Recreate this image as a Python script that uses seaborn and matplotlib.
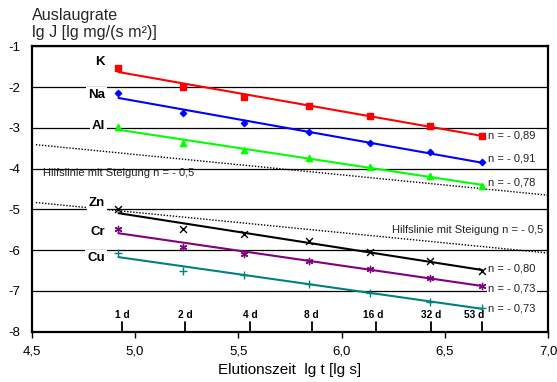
import numpy as np
import matplotlib
matplotlib.use("Agg")
import matplotlib.pyplot as plt
import seaborn as sns

# ---- data ----
lg_t = [4.92, 5.23, 5.53, 5.84, 6.14, 6.43, 6.68]
K = [-1.52, -1.99, -2.23, -2.46, -2.70, -2.94, -3.19]
Na = [-2.15, -2.64, -2.87, -3.10, -3.36, -3.60, -3.84]
Al = [-2.97, -3.37, -3.54, -3.74, -3.96, -4.17, -4.42]
Zn = [-4.99, -5.47, -5.60, -5.78, -6.04, -6.27, -6.50]
Cr = [-5.47, -5.91, -6.09, -6.27, -6.46, -6.67, -6.87]
Cu = [-6.07, -6.52, -6.61, -6.82, -7.05, -7.26, -7.42]

elements = ["K", "Na", "Al", "Zn", "Cr", "Cu"]
series = [K, Na, Al, Zn, Cr, Cu]
slope_labels = ["n = - 0,89", "n = - 0,91", "n = - 0,78",
                "n = - 0,80", "n = - 0,73", "n = - 0,73"]
colors = ["#FF0000", "#0000FF", "#00FF00", "#000000", "#800080", "#008080"]
markers = ["s", "D", "^", "x", (6, 2, 0), "+"]
marker_sizes = [16, 10, 20, 24, 20, 30]

# element label positions (y) and n-label positions (y)
elem_label_y = [-1.38, -2.19, -2.95, -4.84, -5.55, -6.18]
n_label_y = [-3.19, -3.74, -4.33, -6.44, -6.94, -7.43]

# auxiliary lines with slope -0.5
aux_x = [4.52, 7.0]
aux_start_y = [-3.41, -4.83]
aux_slope = -0.5

day_labels = ["1 d", "2 d", "4 d", "8 d", "16 d", "32 d", "53 d"]
day_pos = [4.937, 5.244, 5.557, 5.859, 6.166, 6.434, 6.679]
day_label_pos = [4.937, 5.244, 5.557, 5.852, 6.153, 6.434, 6.64]

x_ticks = [4.5, 5.0, 5.5, 6.0, 6.5, 7.0]
x_ticklabels = ["4,5", "5,0", "5,5", "6,0", "6,5", "7,0"]
y_ticks = [-1, -2, -3, -4, -5, -6, -7, -8]

# ---- style ----
sns.set_theme(style="white")
plt.rcParams["font.family"] = ["Liberation Sans", "DejaVu Sans"]

fig = plt.figure(figsize=(5.57, 3.82), dpi=100)
ax = fig.add_axes([0.057, 0.1317, 0.927, 0.7466])

ax.set_xlim(4.5, 7.0)
ax.set_ylim(-8, -1)
ax.set_xticks(x_ticks)
ax.set_xticklabels(x_ticklabels, fontsize=9.5)
ax.set_yticks(y_ticks)
ax.set_yticklabels([str(v) for v in y_ticks], fontsize=9.5)
ax.tick_params(axis="x", direction="out", length=4, width=1, pad=6, colors="black")
ax.tick_params(axis="y", direction="out", length=0, pad=8, colors="black")
ax.tick_params(axis="both", bottom=True, left=True)
ax.yaxis.grid(True, color="black", lw=0.9)
ax.xaxis.grid(False)
ax.set_axisbelow(True)
for sp in ax.spines.values():
    sp.set_visible(True)
    sp.set_color("black")
    sp.set_linewidth(1.6)

# auxiliary dotted lines
for y0 in aux_start_y:
    ys = [y0, y0 + aux_slope * (aux_x[1] - aux_x[0])]
    ax.plot(aux_x, ys, color="black", lw=1.0, ls=(0, (1, 1.2)), zorder=1.5)

ax.text(4.555, -4.11, "Hilfslinie mit Steigung n = - 0,5", fontsize=8,
        ha="left", va="center", color="#222222", zorder=3)
ax.text(6.976, -5.51, "Hilfslinie mit Steigung n = - 0,5", fontsize=8,
        ha="right", va="center", color="#222222", zorder=3)

# regression series
for name, vals, col, mk, ms in zip(elements, series, colors, markers, marker_sizes):
    sns.regplot(x=lg_t, y=vals, ax=ax, ci=None, color=col, marker=mk,
                scatter_kws=dict(s=ms, alpha=1, linewidths=1.0, zorder=4),
                line_kws=dict(lw=1.5, zorder=3))

# labels
box = dict(boxstyle="square,pad=0.15", fc="white", ec="none")
for name, ly, ny, nl in zip(elements, elem_label_y, n_label_y, slope_labels):
    ax.text(4.855, ly, name, fontsize=9.5, fontweight="bold", ha="right",
            va="center", color="black", bbox=box, zorder=5)
    ax.text(6.71, ny, nl, fontsize=8, ha="left", va="center",
            color="#222222", bbox=box, zorder=5)

# elution day markers
for lab, xp, xl in zip(day_labels, day_pos, day_label_pos):
    ax.plot([xp, xp], [-8, -7.77], color="black", lw=1.3, zorder=3,
            clip_on=False)
    ax.text(xl, -7.58, lab, fontsize=7.3, fontweight="bold", ha="center",
            va="center", color="black", zorder=5)

ax.set_xlabel("Elutionszeit  lg t [lg s]", fontsize=11, color="black",
              labelpad=4)
ax.set_ylabel("")
fig.text(0.057, 0.978, "Auslaugrate\nlg J [lg mg/(s m²)]", fontsize=11.6,
         ha="left", va="top", linespacing=1.12)

fig.savefig("out.png", dpi=100, facecolor="white")
